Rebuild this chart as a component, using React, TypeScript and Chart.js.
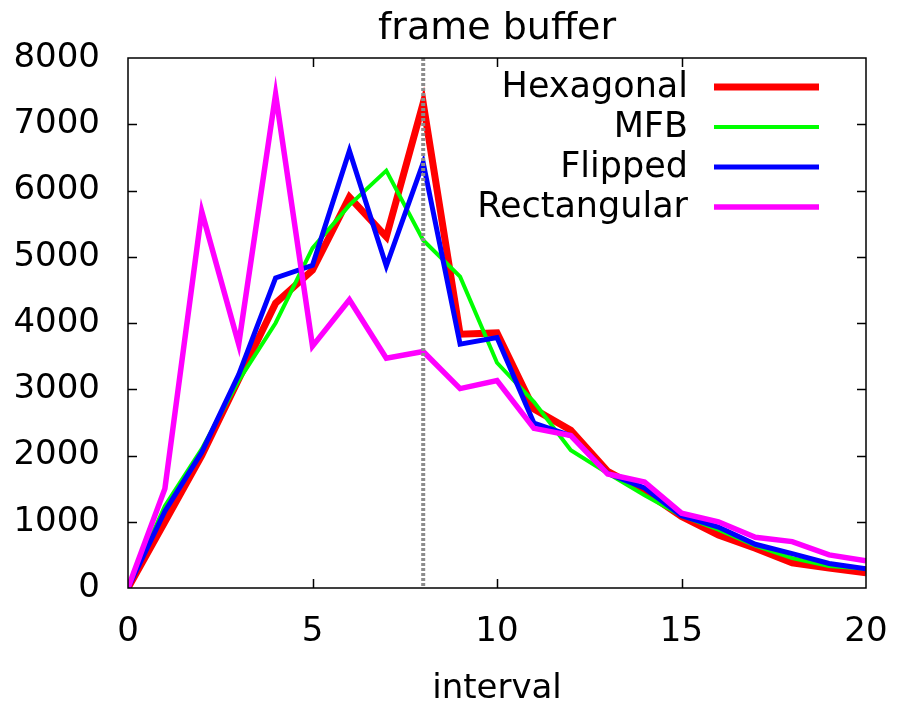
import { useEffect, useRef } from "react";
import { Chart, registerables } from "chart.js";

Chart.register(...registerables);

// ---- data ----
const intervals = [0, 1, 2, 3, 4, 5, 6, 7, 8, 9, 10, 11, 12, 13, 14, 15, 16, 17, 18, 19, 20];
const hexagonal = [0, 1000, 2000, 3150, 4300, 4800, 5900, 5300, 7320, 3830, 3850, 2700, 2380, 1760, 1460, 1080, 800, 600, 380, 300, 230];
const mfb = [0, 1240, 2100, 3130, 4000, 5130, 5780, 6300, 5250, 4700, 3400, 2810, 2080, 1730, 1400, 1090, 880, 640, 450, 330, 290];
const flipped = [0, 1160, 2050, 3220, 4680, 4870, 6600, 4860, 6420, 3680, 3780, 2490, 2300, 1730, 1510, 1090, 920, 660, 520, 370, 290];
const rectangular = [0, 1500, 5680, 3680, 7450, 3650, 4350, 3470, 3570, 3010, 3130, 2410, 2300, 1720, 1600, 1130, 1000, 765, 700, 500, 410];

const seriesNames = ["Hexagonal", "MFB", "Flipped", "Rectangular"];
const seriesValues = [hexagonal, mfb, flipped, rectangular];
const seriesColors = ["#ff0000", "#00ff00", "#0000ff", "#ff00ff"];
const seriesWidths = [7, 4, 5, 5.5];

const markerInterval = 8;
const chartTitle = "frame buffer";
const xAxisTitle = "interval";
const xMin = 0;
const xMax = 20;
const xStep = 5;
const yMin = 0;
const yMax = 8000;
const yStep = 1000;

const FONT = "'DejaVu Sans', sans-serif";

const markerPlugin = {
  id: "markerLine",
  afterDatasetsDraw(chart: any) {
    const { ctx, chartArea, scales } = chart;
    const x = scales.x.getPixelForValue(markerInterval);
    ctx.save();
    ctx.strokeStyle = "#8c8c8c";
    ctx.lineWidth = 4;
    ctx.setLineDash([3, 2]);
    ctx.beginPath();
    ctx.moveTo(x, chartArea.top);
    ctx.lineTo(x, chartArea.bottom);
    ctx.stroke();
    ctx.restore();
  },
};

const framePlugin = {
  id: "frameTicks",
  afterDraw(chart: any) {
    const { ctx, chartArea, scales } = chart;
    const { left, right, top, bottom } = chartArea;
    const tl = 9;
    ctx.save();
    ctx.strokeStyle = "#000";
    ctx.lineWidth = 1.5;
    ctx.setLineDash([]);
    ctx.beginPath();
    for (const t of scales.y.ticks) {
      if (t.value === yMin || t.value === yMax) continue;
      const y = Math.round(scales.y.getPixelForValue(t.value)) + 0.5;
      ctx.moveTo(left, y);
      ctx.lineTo(left + tl, y);
      ctx.moveTo(right, y);
      ctx.lineTo(right - tl, y);
    }
    for (const t of scales.x.ticks) {
      if (t.value === xMin || t.value === xMax) continue;
      const x = Math.round(scales.x.getPixelForValue(t.value)) + 0.5;
      ctx.moveTo(x, bottom);
      ctx.lineTo(x, bottom - tl);
      ctx.moveTo(x, top);
      ctx.lineTo(x, top + tl);
    }
    ctx.stroke();
    ctx.strokeRect(left, top, right - left, bottom - top);
    ctx.restore();
  },
};

const legendPlugin = {
  id: "keyBox",
  afterDraw(chart: any) {
    const { ctx, chartArea } = chart;
    const textRight = chartArea.right - 178;
    const lineStart = chartArea.right - 152;
    const lineEnd = chartArea.right - 47;
    ctx.save();
    ctx.font = `35px ${FONT}`;
    ctx.textAlign = "right";
    ctx.textBaseline = "middle";
    chart.data.datasets.forEach((ds: any, i: number) => {
      const y = chartArea.top + 29 + i * 40;
      ctx.fillStyle = "#000";
      ctx.fillText(ds.label, textRight, y + 1);
      ctx.strokeStyle = ds.borderColor;
      ctx.lineWidth = ds.borderWidth;
      ctx.beginPath();
      ctx.moveTo(lineStart, y);
      ctx.lineTo(lineEnd, y);
      ctx.stroke();
    });
    ctx.restore();
  },
};

export default function App() {
  const ref = useRef<HTMLCanvasElement | null>(null);

  useEffect(() => {
    if (!ref.current) return;
    Chart.defaults.font.family = FONT;
    Chart.defaults.color = "#000";
    const datasets = seriesNames.map((name, i) => ({
      label: name,
      data: intervals.map((x, j) => ({ x, y: seriesValues[i][j] })),
      borderColor: seriesColors[i],
      backgroundColor: seriesColors[i],
      borderWidth: seriesWidths[i],
      pointRadius: 0,
      tension: 0,
      fill: false,
      order: seriesNames.length - i,
    }));
    const chart = new Chart(ref.current, {
      type: "line",
      data: { datasets },
      options: {
        animation: false,
        responsive: false,
        layout: { padding: { left: 0, right: 31, top: 0, bottom: 0 } },
        plugins: {
          legend: { display: false },
          tooltip: { enabled: false },
          title: {
            display: true,
            text: chartTitle,
            fullSize: false,
            color: "#000",
            font: { size: 38, weight: "normal", family: FONT, lineHeight: 1.2 },
            padding: { top: 6, bottom: 6.4 },
          },
        },
        scales: {
          x: {
            type: "linear",
            min: xMin,
            max: xMax,
            ticks: {
              stepSize: xStep,
              font: { size: 34 },
              padding: 24,
              color: "#000",
              maxRotation: 0,
              callback: (v: any) => String(v),
            },
            grid: { display: false, drawTicks: false },
            border: { display: false },
            title: {
              display: true,
              text: xAxisTitle,
              font: { size: 34, lineHeight: 1 },
              color: "#000",
              padding: { top: 0, bottom: -3 },
            },
            afterFit: (scale: any) => {
              scale.height = 115;
              scale.paddingLeft = 0;
              scale.paddingRight = 0;
            },
          },
          y: {
            type: "linear",
            min: yMin,
            max: yMax,
            ticks: {
              stepSize: yStep,
              font: { size: 34 },
              padding: 28,
              color: "#000",
              callback: (v: any) => String(v),
            },
            grid: { display: false, drawTicks: false },
            border: { display: false },
            afterFit: (scale: any) => {
              scale.width = 128;
            },
          },
        },
      },
      plugins: [markerPlugin, framePlugin, legendPlugin],
    });
    return () => chart.destroy();
  }, []);

  return (
    <div style={{ position: "absolute", left: 0, top: 0, width: 897, height: 703 }}>
      <canvas ref={ref} width={897} height={703} />
    </div>
  );
}
